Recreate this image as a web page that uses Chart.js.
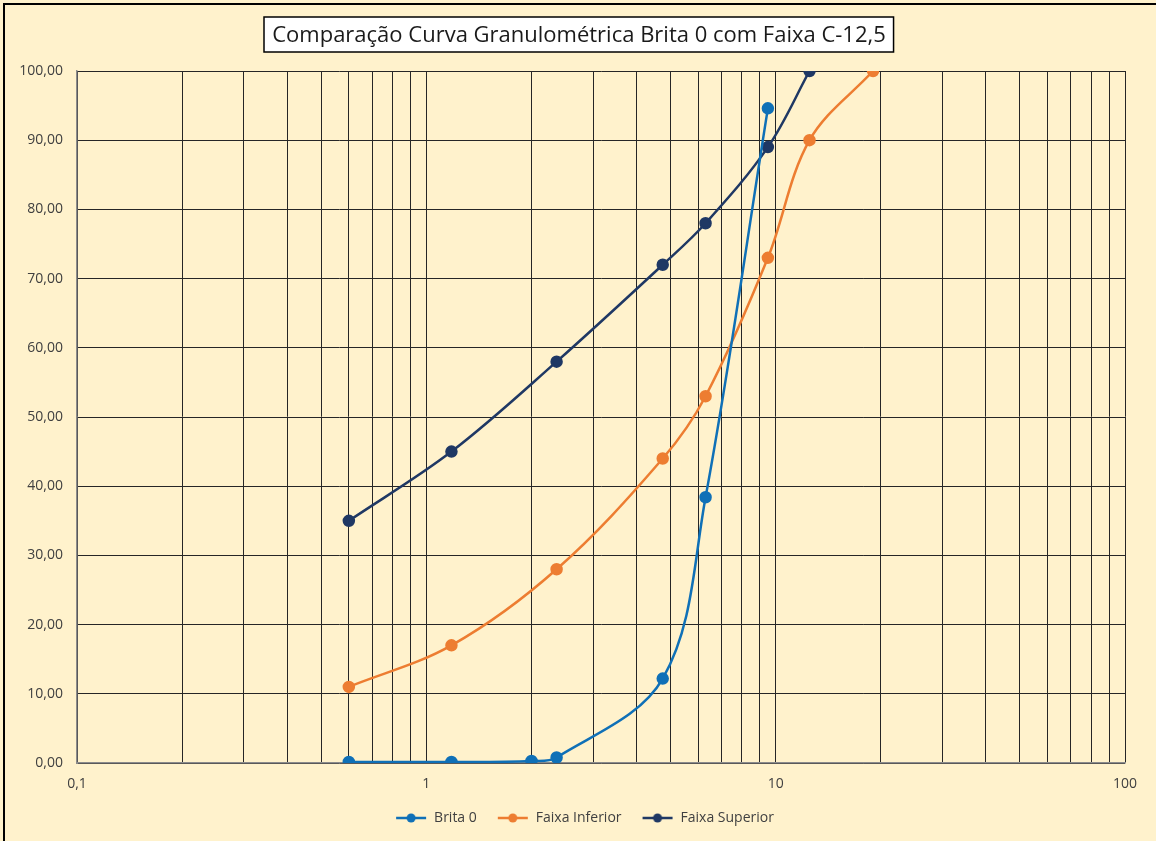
<!DOCTYPE html>
<html>
<head>
<meta charset="utf-8">
<script src="https://cdn.jsdelivr.net/npm/chart.js@4.4.1/dist/chart.umd.min.js"></script>
<style>
  html, body { margin: 0; padding: 0; background: #FFF2CC; }
  #wrap { width: 1156px; height: 841px; position: relative; }
</style>
</head>
<body>
<div id="wrap"><canvas id="c" width="1156" height="841"></canvas></div>
<script>
// Sieve openings (mm) and percent passing
const britaSieves = [0.6, 1.18, 2.0, 2.36, 4.75, 6.3, 9.5];
const brita0 = [0.15, 0.15, 0.3, 0.8, 12.2, 38.4, 94.6];
const faixaSieves = [0.6, 1.18, 2.36, 4.75, 6.3, 9.5, 12.5, 19];
const faixaInferior = [11, 17, 28, 44, 53, 73, 90, 100];
const superiorSieves = [0.6, 1.18, 2.36, 4.75, 6.3, 9.5, 12.5];
const faixaSuperior = [35, 45, 58, 72, 78, 89, 100];
const xTickLabels = [0.1, 1, 10, 100];
const yTickValues = [0, 10, 20, 30, 40, 50, 60, 70, 80, 90, 100];

const TITLE = 'Comparação Curva Granulométrica Brita 0 com Faixa C-12,5';
const FONT = '"Open Sans", "Liberation Sans", sans-serif';

const pts = (xs, ys) => xs.map((x, i) => ({ x: x, y: ys[i] }));

// legend marker: short line with a dot in the middle
function marker(color) {
  const c = document.createElement('canvas');
  c.width = 32; c.height = 12;
  const g = c.getContext('2d');
  g.strokeStyle = color; g.lineWidth = 2.5;
  g.beginPath(); g.moveTo(1, 6); g.lineTo(31, 6); g.stroke();
  g.fillStyle = color;
  g.beginPath(); g.arc(16, 6, 4.5, 0, Math.PI * 2); g.fill();
  return c;
}

// every 1..9 step of each decade gets a grid line
const gridTicks = [];
for (let d = -1; d < 2; d++) {
  for (let m = 1; m < 10; m++) gridTicks.push(+(m * Math.pow(10, d)).toPrecision(3));
}
gridTicks.push(100);

const frame = {
  id: 'frame',
  afterLayout(chart) {
    // center the legend row under the plot rather than the whole canvas
    const lg = chart.legend;
    if (lg) { lg.left += 44; lg.width -= 44; }
  },
  beforeDraw(chart) {
    const ctx = chart.ctx;
    ctx.save();
    ctx.fillStyle = '#FFF2CC';
    ctx.fillRect(0, 0, chart.width, chart.height);
    ctx.strokeStyle = '#000';
    ctx.lineWidth = 2;
    ctx.beginPath();
    ctx.moveTo(4, chart.height);
    ctx.lineTo(4, 4);
    ctx.lineTo(chart.width, 4);
    ctx.stroke();
    ctx.restore();
  },
  afterDraw(chart) {
    const ctx = chart.ctx;
    ctx.save();
    ctx.font = '22px ' + FONT;
    const w = ctx.measureText(TITLE).width;
    const cx = 579, top = 17, h = 35, padX = 8;
    const left = Math.round(cx - w / 2 - padX);
    ctx.fillStyle = '#FFFFFF';
    ctx.fillRect(left, top, w + 2 * padX, h);
    ctx.strokeStyle = '#000';
    ctx.lineWidth = 1.5;
    ctx.strokeRect(left, top, w + 2 * padX, h);
    ctx.fillStyle = '#1a1a1a';
    ctx.textAlign = 'center';
    ctx.textBaseline = 'middle';
    ctx.fillText(TITLE, cx, top + h / 2 + 1);
    ctx.restore();
  }
};

const series = [
  { label: 'Brita 0', data: pts(britaSieves, brita0), color: '#0F70B7' },
  { label: 'Faixa Inferior', data: pts(faixaSieves, faixaInferior), color: '#ED7D31' },
  { label: 'Faixa Superior', data: pts(superiorSieves, faixaSuperior), color: '#1F3864' }
];

new Chart(document.getElementById('c'), {
  type: 'line',
  data: {
    datasets: series.map(s => ({
      label: s.label,
      data: s.data,
      borderColor: s.color,
      backgroundColor: s.color,
      pointBackgroundColor: s.color,
      pointBorderColor: s.color,
      pointStyle: 'circle',
      pointRadius: 5,
      pointHoverRadius: 5,
      borderWidth: 2.5,
      tension: 0.35,
      fill: false
    }))
  },
  options: {
    responsive: false,
    animation: false,
    events: [],
    layout: { padding: { top: 71, right: 31, bottom: 6, left: 0 } },
    plugins: {
      title: { display: false },
      tooltip: { enabled: false },
      legend: {
        position: 'bottom',
        labels: {
          usePointStyle: true,
          pointStyleWidth: 32,
          font: { family: FONT, size: 14 },
          color: '#404040',
          padding: 20,
          generateLabels(chart) {
            return chart.data.datasets.map((ds, i) => ({
              text: ds.label,
              pointStyle: marker(ds.borderColor),
              fillStyle: ds.borderColor,
              strokeStyle: ds.borderColor,
              lineWidth: 0,
              datasetIndex: i,
              hidden: false,
              fontColor: '#404040'
            }));
          }
        }
      }
    },
    scales: {
      x: {
        type: 'logarithmic',
        min: 0.1,
        max: 100,
        afterBuildTicks(scale) { scale.ticks = gridTicks.map(v => ({ value: v })); },
        afterFit(scale) { scale.height = 28; },
        ticks: {
          autoSkip: false,
          maxRotation: 0,
          padding: 13,
          font: { family: FONT, size: 14 },
          color: '#404040',
          callback(v) {
            return xTickLabels.includes(v) ? String(v).replace('.', ',') : '';
          }
        },
        grid: { color: '#262626', lineWidth: 1, drawTicks: false },
        border: { color: '#8c8c8c', width: 1.5 }
      },
      y: {
        min: 0,
        max: 100,
        afterBuildTicks(scale) { scale.ticks = yTickValues.map(v => ({ value: v })); },
        afterFit(scale) { scale.width = 77; },
        ticks: {
          padding: 14,
          font: { family: FONT, size: 14 },
          color: '#404040',
          callback(v) { return v.toFixed(2).replace('.', ','); }
        },
        grid: { color: '#262626', lineWidth: 1, drawTicks: false },
        border: { color: '#8c8c8c', width: 1.5 }
      }
    }
  },
  plugins: [frame]
});
</script>
</body>
</html>
